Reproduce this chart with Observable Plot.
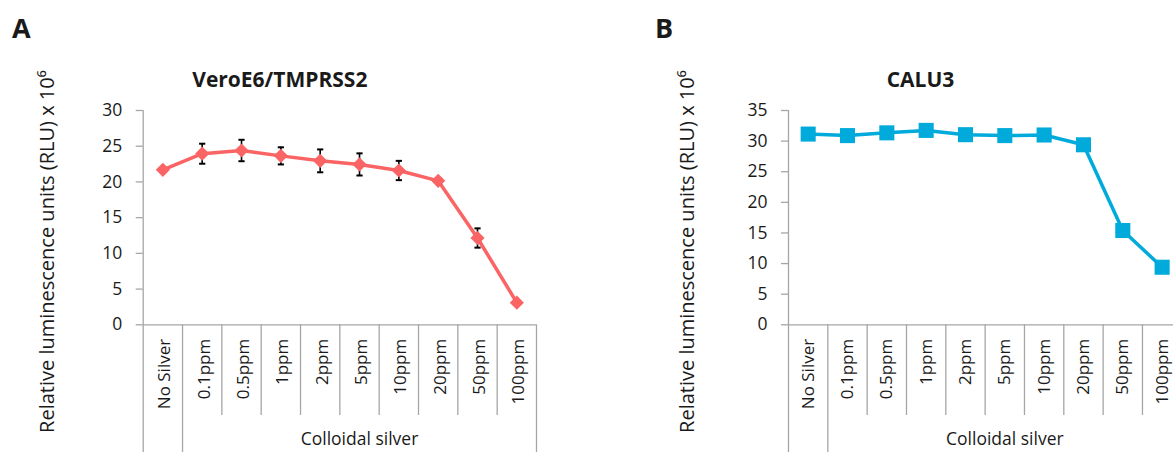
<!DOCTYPE html>
<html><head><meta charset="utf-8">
<script src="https://cdn.jsdelivr.net/npm/d3@7"></script>
<script src="https://cdn.jsdelivr.net/npm/@observablehq/plot@0.6"></script>
<style>
html,body{margin:0;padding:0;background:#fff;}
#wrap{position:relative;width:1173px;height:452px;overflow:hidden;background:#fff;}
#wrap svg{position:absolute;top:0;}
</style></head><body><div id="wrap"></div>
<script>
// ---- data ----
const categories = ["No Silver","0.1ppm","0.5ppm","1ppm","2ppm","5ppm","10ppm","20ppm","50ppm","100ppm"];
const groupLabel = "Colloidal silver";
const groupStart = 1; // first category belonging to "Colloidal silver"
const veroValues = [21.7, 23.95, 24.4, 23.65, 22.95, 22.45, 21.6, 20.15, 12.15, 3.1];
const veroErrors = [0.3, 1.4, 1.5, 1.2, 1.6, 1.55, 1.35, 0.4, 1.35, 0.2];
const caluValues = [31.15, 30.9, 31.35, 31.75, 31.05, 30.9, 31.0, 29.4, 15.4, 9.4];
const yTicksA = [0, 5, 10, 15, 20, 25, 30];
const yTicksB = [0, 5, 10, 15, 20, 25, 30, 35];
const yLabel = "Relative luminescence units (RLU) x 10\u2076";
const titleA = "VeroE6/TMPRSS2";
const titleB = "CALU3";

const GRAY = "#a6a6a6";
const H = 452, MT = 110, MB = 127.7;
const frameH = H - MT - MB;

const capSymbol = {draw(ctx, size) { const w = Math.sqrt(size / Math.PI); ctx.moveTo(-w, 0); ctx.lineTo(w, 0); }};

function panel(o) {
  const n = categories.length;
  const data = categories.map((c, i) => ({i, c, v: o.values[i], e: o.errors ? o.errors[i] : null}));
  const bounds = d3.range(n + 1).map(i => i - 0.5);
  const longB = bounds.filter((b, k) => k === 0 || k === groupStart || k === n);
  const shortB = bounds.filter((b, k) => !longB.includes(b));
  const silverCenter = (groupStart + n - 1) / 2;
  const marks = [
    Plot.ruleX(shortB, {x: d => d, stroke: GRAY, strokeWidth: 1.3, insetTop: frameH, insetBottom: -90.7}),
    Plot.ruleX(longB.slice(1), {x: d => d, stroke: GRAY, strokeWidth: 1.3, insetTop: frameH, insetBottom: -130}),
    Plot.ruleX(longB.slice(0, 1), {x: d => d, stroke: GRAY, strokeWidth: 1.3, insetBottom: -130}),
    Plot.ruleY([0], {stroke: GRAY, strokeWidth: 1.3}),
    Plot.axisY({ticks: o.yTicks, tickSize: 7, tickPadding: 14, stroke: GRAY, strokeWidth: 1.3, label: null, fontSize: 17.5}),
    Plot.axisX({ticks: d3.range(n), tickFormat: i => categories[i], tickRotate: -90, tickSize: 0, tickPadding: 14, label: null, fontSize: 17, dx: o.xlabDx}),
    Plot.line(data, {x: "i", y: "v", stroke: o.color, strokeWidth: 3.5})
  ];
  if (o.errors) {
    marks.push(
      Plot.ruleX(data, {x: "i", y1: d => d.v - d.e, y2: d => d.v + d.e, stroke: "#000", strokeWidth: 1.6}),
      Plot.dot(data, {x: "i", y: d => d.v + d.e, symbol: capSymbol, r: 3.1, stroke: "#000", strokeWidth: 2}),
      Plot.dot(data, {x: "i", y: d => d.v - d.e, symbol: capSymbol, r: 3.1, stroke: "#000", strokeWidth: 2})
    );
  }
  marks.push(
    Plot.dot(data, {x: "i", y: "v", symbol: o.symbol, r: o.r, fill: o.color, stroke: "none"}),
    Plot.text([groupLabel], {x: () => silverCenter, frameAnchor: "bottom", lineAnchor: "middle", dy: 115, fontSize: 17.5}),
    Plot.text([o.title], {frameAnchor: "top", lineAnchor: "middle", dx: o.titleDx, dy: -30.5, fontSize: 21, fontWeight: "bold"}),
    Plot.text([o.letter], {frameAnchor: "top-left", lineAnchor: "middle", dx: o.letterDx, dy: -81, fontSize: 27, fontWeight: "bold", textAnchor: "middle"}),
    Plot.text([yLabel], {frameAnchor: "left", lineAnchor: "middle", rotate: -90, dx: o.ylabelDx, dy: 34, fontSize: 20, textAnchor: "middle"})
  );
  const svg = Plot.plot({
    width: o.width, height: H,
    marginLeft: o.marginLeft, marginRight: o.marginRight, marginTop: MT, marginBottom: MB,
    x: {type: "linear", domain: [-0.5, n - 0.5]},
    y: {domain: [0, o.yMax]},
    style: {fontFamily: "'Open Sans', sans-serif", color: "#1a1a1a", background: "transparent", overflow: "visible"},
    marks
  });
  svg.style.left = o.left + "px";
  document.getElementById("wrap").appendChild(svg);
}

panel({letter: "A", title: titleA, values: veroValues, errors: veroErrors, color: "#fa6464", symbol: "diamond2", r: 6.4,
  yMax: 30, yTicks: yTicksA, left: 0, width: 586, marginLeft: 142.7, marginRight: 50,
  titleDx: -60, letterDx: -122, ylabelDx: -95.7, xlabDx: 2});
panel({letter: "B", title: titleB, values: caluValues, errors: null, color: "#00aadb", symbol: "square", r: 8.5,
  yMax: 35, yTicks: yTicksB, left: 640, width: 591, marginLeft: 148, marginRight: 49.7,
  titleDx: -64.6, letterDx: -124.5, ylabelDx: -101.3, xlabDx: 0});
</script>
</body></html>
